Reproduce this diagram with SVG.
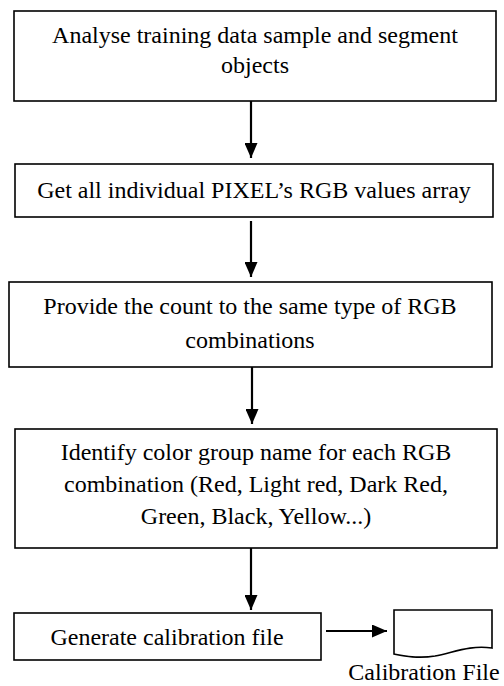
<svg xmlns="http://www.w3.org/2000/svg" width="504" height="686" viewBox="0 0 504 686">
  <style>
    .box { fill: #fff; stroke: #000; stroke-width: 1.6; }
    .lbl { font-family: "Liberation Serif", "Times New Roman", serif; font-size: 24px; fill: #000; text-anchor: middle; }
    .edge { stroke: #000; stroke-width: 2.2; fill: none; }
  </style>
  <defs>
    <marker id="arrow" viewBox="0 0 15 13" refX="15" refY="6.5" markerUnits="userSpaceOnUse" markerWidth="15" markerHeight="13" orient="auto">
      <path d="M0,0 L15,6.5 L0,13 Z" fill="#000"/>
    </marker>
  </defs>
  <rect width="504" height="686" fill="#fff"/>

  <g id="analyse">
    <rect class="box" x="14" y="11" width="482" height="90"/>
    <text class="lbl" x="255" y="43">Analyse training data sample and segment</text>
    <text class="lbl" x="255" y="73">objects</text>
  </g>

  <g id="pixels">
    <rect class="box" x="15" y="164" width="478" height="53"/>
    <text class="lbl" x="254" y="198">Get all individual PIXEL’s RGB values array</text>
  </g>

  <g id="count">
    <rect class="box" x="9" y="282" width="483" height="85"/>
    <text class="lbl" x="250" y="314">Provide the count to the same type of RGB</text>
    <text class="lbl" x="250" y="348">combinations</text>
  </g>

  <g id="identify">
    <rect class="box" x="15" y="429" width="482" height="119"/>
    <text class="lbl" x="256" y="460">Identify color group name for each RGB</text>
    <text class="lbl" x="256" y="492">combination (Red, Light red, Dark Red,</text>
    <text class="lbl" x="256" y="524">Green, Black, Yellow...)</text>
  </g>

  <g id="generate">
    <rect class="box" x="14" y="613" width="307" height="47"/>
    <text class="lbl" x="167" y="645">Generate calibration file</text>
  </g>

  <g id="calibration-file">
    <path class="box" d="M394,610 L492,610 L492,648 C470,645 455,652 435,656 C418,659 404,656 394,654 Z"/>
    <text class="lbl" x="424" y="680">Calibration File</text>
  </g>

  <g id="connectors">
    <line class="edge" x1="251" y1="101" x2="251" y2="158" marker-end="url(#arrow)"/>
    <line class="edge" x1="251" y1="221" x2="251" y2="277" marker-end="url(#arrow)"/>
    <line class="edge" x1="252" y1="367" x2="252" y2="424" marker-end="url(#arrow)"/>
    <line class="edge" x1="251" y1="548" x2="251" y2="610" marker-end="url(#arrow)"/>
    <line class="edge" x1="326" y1="631" x2="387" y2="631" marker-end="url(#arrow)"/>
  </g>
</svg>
